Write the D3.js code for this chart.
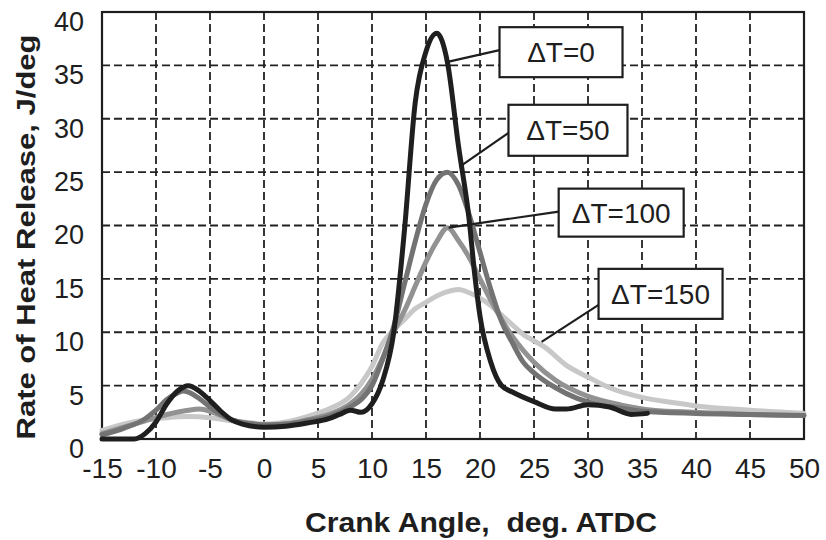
<!DOCTYPE html>
<html>
<head>
<meta charset="utf-8">
<script src="https://cdn.jsdelivr.net/npm/d3@7/dist/d3.min.js"></script>
<style>
  html, body { margin: 0; padding: 0; background: #fff; }
  svg { display: block; }
  text { font-family: "Liberation Sans", Arial, sans-serif; fill: #1e1e1e; }
</style>
</head>
<body>
<svg id="chart" width="826" height="540"></svg>
<script>
// Rate of heat release vs crank angle for four intake temperature offsets
const xTicks = [-15, -10, -5, 0, 5, 10, 15, 20, 25, 30, 35, 40, 45, 50];
const yTicks = [0, 5, 10, 15, 20, 25, 30, 35, 40];

const seriesNames = ["ΔT=0", "ΔT=50", "ΔT=100", "ΔT=150"];

// ΔT=0
const angle0 = [-15, -12, -11, -10, -9, -8, -7, -6, -5, -4, -3, -2, 0, 2, 4, 6, 7, 8, 9, 10, 11, 12, 13, 14, 15, 16, 17, 18, 19, 19.5, 20, 21, 22, 23, 25, 27, 28, 30, 32, 34, 35.5];
const rohr0  = [0, 0, 0.5, 1.6, 3.3, 4.5, 5.0, 4.5, 3.6, 2.6, 1.8, 1.4, 1.1, 1.2, 1.5, 1.9, 2.3, 2.7, 2.5, 3.3, 5.5, 9.9, 19.5, 31.5, 36.3, 38.0, 35.2, 27.5, 20.5, 15.5, 11.5, 7.2, 5.0, 4.4, 3.5, 2.8, 2.8, 3.2, 3.0, 2.3, 2.4];

// ΔT=50
const angle50 = [-15, -13, -11, -10, -9, -8, -7.5, -7, -6, -5, -4, -3, -1, 0, 2, 4, 6, 8, 9, 10, 11, 12, 13, 14, 15, 16, 17, 18, 19, 20, 21, 22, 23, 24, 25, 27, 29, 31, 33, 35, 40, 45, 50];
const rohr50  = [0.4, 1.0, 1.9, 2.7, 3.7, 4.3, 4.5, 4.4, 3.8, 3.0, 2.3, 1.8, 1.4, 1.3, 1.4, 1.7, 2.1, 3.0, 3.7, 5.0, 7.5, 10.5, 14.5, 18.5, 22.0, 24.3, 25.0, 23.8, 21.0, 17.5, 14.0, 11.0, 9.0, 7.2, 6.2, 4.8, 3.8, 3.2, 2.9, 2.6, 2.4, 2.3, 2.2];

// ΔT=100
const angle100 = [-15, -13, -11, -9, -7, -6, -5, -4, -3, -1, 0, 2, 4, 6, 8, 9, 10, 11, 12, 13, 14, 15, 16, 17, 18, 19, 20, 21, 22, 23, 24, 25, 27, 30, 33, 36, 40, 45, 50];
const rohr100  = [0.5, 1.1, 1.7, 2.3, 2.7, 2.8, 2.6, 2.2, 1.8, 1.4, 1.3, 1.4, 1.8, 2.3, 3.3, 4.2, 5.6, 7.6, 10.0, 12.0, 14.3, 16.6, 18.5, 19.8, 18.6, 17.0, 15.0, 13.0, 11.2, 9.6, 8.3, 7.2, 5.5, 4.0, 3.2, 2.7, 2.5, 2.3, 2.2];

// ΔT=150
const angle150 = [-15, -13, -11, -9, -7, -5, -3, -1, 0, 2, 4, 6, 8, 9, 10, 11, 12, 13, 14, 15, 16, 17, 18, 19, 20, 21, 22, 23, 24, 25, 26, 28, 30, 32, 35, 38, 40, 45, 50];
const rohr150  = [0.8, 1.4, 1.8, 2.0, 2.1, 2.0, 1.7, 1.5, 1.4, 1.6, 2.1, 2.8, 4.0, 5.2, 6.8, 9.0, 10.2, 11.2, 12.2, 12.8, 13.4, 13.8, 14.0, 13.7, 13.2, 12.5, 11.6, 10.7, 9.8, 9.2, 8.6, 6.9, 5.8, 4.8, 3.9, 3.4, 3.1, 2.7, 2.4];

// Point on each curve that its callout points to
const calloutAngle = [16.9, 18.1, 17.1, 25.7];
const calloutRohr  = [35.3, 25.5, 19.8, 9.1];

const svg = d3.select("#chart");
const x = d3.scaleLinear().domain([-15, 50]).range([102, 804]);
const y = d3.scaleLinear().domain([0, 40]).range([439, 12]);

// dashed grid
const grid = svg.append("g");
grid.selectAll("line.v")
  .data(xTicks.filter(v => v > -15 && v < 50))
  .join("line")
  .attr("x1", d => x(d)).attr("x2", d => x(d))
  .attr("y1", y(40)).attr("y2", y(0))
  .attr("stroke", "#222").attr("stroke-width", 1.8)
  .attr("stroke-dasharray", "8,4");
grid.selectAll("line.h")
  .data(yTicks.filter(v => v > 0 && v < 40))
  .join("line")
  .attr("x1", x(-15)).attr("x2", x(50))
  .attr("y1", d => y(d)).attr("y2", d => y(d))
  .attr("stroke", "#222").attr("stroke-width", 1.8)
  .attr("stroke-dasharray", "8,4");

// frame
svg.append("rect")
  .attr("x", x(-15)).attr("y", y(40))
  .attr("width", x(50) - x(-15)).attr("height", y(0) - y(40))
  .attr("fill", "none").attr("stroke", "#1e1e1e").attr("stroke-width", 2.2);

// axes (labels only); plain hyphen for negatives
const plain = d => String(d);
const xAxis = svg.append("g")
  .attr("transform", `translate(0,${y(0)})`)
  .call(d3.axisBottom(x).tickValues(xTicks).tickFormat(plain).tickSize(0).tickPadding(19));
xAxis.select(".domain").remove();
xAxis.selectAll("text").attr("font-size", 28).attr("fill", "#1e1e1e")
  .attr("font-family", "Liberation Sans, Arial, sans-serif");

const yAxis = svg.append("g")
  .attr("transform", `translate(${x(-15)},0)`)
  .call(d3.axisLeft(y).tickValues(yTicks).tickFormat(plain).tickSize(0).tickPadding(18));
yAxis.select(".domain").remove();
yAxis.selectAll("text").attr("font-size", 27).attr("fill", "#1e1e1e")
  .attr("dy", "0.68em")
  .attr("font-family", "Liberation Sans, Arial, sans-serif");

// axis titles
svg.append("text")
  .attr("x", 481).attr("y", 532)
  .attr("text-anchor", "middle")
  .attr("font-size", 28).attr("font-weight", "bold")
  .attr("xml:space", "preserve")
  .attr("textLength", 352).attr("lengthAdjust", "spacingAndGlyphs")
  .text("Crank Angle,  deg. ATDC");
svg.append("text")
  .attr("transform", "translate(35,237) rotate(-90)")
  .attr("text-anchor", "middle")
  .attr("font-size", 26).attr("font-weight", "bold")
  .attr("textLength", 405).attr("lengthAdjust", "spacingAndGlyphs")
  .text("Rate of Heat Release, J/deg");

// curves
const series = [
  { name: seriesNames[3], xs: angle150, ys: rohr150, color: "#c8c8c8" },
  { name: seriesNames[2], xs: angle100, ys: rohr100, color: "#929292" },
  { name: seriesNames[1], xs: angle50,  ys: rohr50,  color: "#737373" },
  { name: seriesNames[0], xs: angle0,   ys: rohr0,   color: "#1f1f1f" }
];
const line = d3.line()
  .x(d => x(d[0])).y(d => y(d[1]))
  .curve(d3.curveMonotoneX);
svg.append("g").selectAll("path")
  .data(series)
  .join("path")
  .attr("d", s => line(s.xs.map((v, i) => [v, s.ys[i]])))
  .attr("fill", "none")
  .attr("stroke", s => s.color)
  .attr("stroke-width", 5)
  .attr("stroke-linejoin", "round")
  .attr("stroke-linecap", "round");

// callouts: box offset from the curve point, in pixels
const boxes = [
  { dx: 53, dy: -35, w: 123, h: 50, ly: -12 },
  { dx: 49, dy: -62, w: 119, h: 51, ly: -34 },
  { dx: 110, dy: -39, w: 125, h: 48, ly: -16 },
  { dx: 57, dy: -73, w: 124, h: 50, ly: -37 }
];
const callouts = svg.append("g");
seriesNames.forEach((name, i) => {
  const px = x(calloutAngle[i]), py = y(calloutRohr[i]);
  const b = boxes[i];
  const bx = px + b.dx, by = py + b.dy;
  callouts.append("line")
    .attr("x1", px).attr("y1", py)
    .attr("x2", bx).attr("y2", py + b.ly)
    .attr("stroke", "#1e1e1e").attr("stroke-width", 2.2);
  callouts.append("rect")
    .attr("x", bx).attr("y", by).attr("width", b.w).attr("height", b.h)
    .attr("fill", "#fff").attr("stroke", "#1e1e1e").attr("stroke-width", 2.2);
  callouts.append("text")
    .attr("x", bx + b.w / 2).attr("y", by + b.h / 2)
    .attr("dy", "0.36em")
    .attr("text-anchor", "middle")
    .attr("font-size", 28)
    .text(name);
});
</script>
</body>
</html>
